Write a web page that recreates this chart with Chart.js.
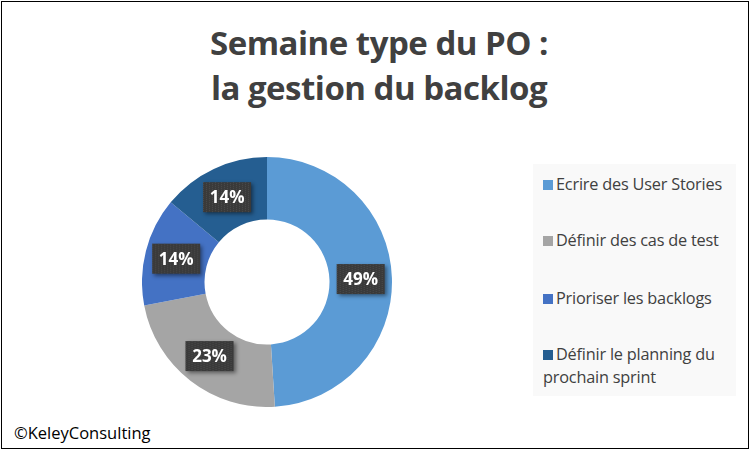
<!DOCTYPE html>
<html><head><meta charset="utf-8">
<script src="https://cdn.jsdelivr.net/npm/chart.js@4"></script>
<style>
body{margin:0;width:752px;height:452px;background:#fff;font-family:Calibri,"Liberation Sans",Carlito,sans-serif;overflow:hidden}
#frame{position:absolute;left:1px;top:1px;width:748px;height:448px;border:1px solid #000;box-sizing:border-box}
#title{position:absolute;left:3px;top:20px;width:752px;text-align:center;font-weight:bold;font-size:33px;line-height:45px;color:#404040;font-family:"Open Sans","Liberation Sans",sans-serif;letter-spacing:-0.5px}
#cw{position:absolute;left:142px;top:157px;width:250px;height:250px}
#legend{position:absolute;left:533px;top:164px;width:203px;height:232px;background:#f9f9f9;color:#404040;font-size:16.3px;font-family:"Open Sans","Liberation Sans",sans-serif;letter-spacing:-0.2px}
.li{position:absolute;left:10px;line-height:23px;white-space:nowrap}
.sw{display:inline-block;width:10px;height:10px;margin-right:3px;vertical-align:0px}
#copy{position:absolute;left:14px;top:421px;font-size:16.5px;color:#000;font-family:"Open Sans","Liberation Sans",sans-serif}
</style></head><body>
<div id="frame"></div>
<div id="title">Semaine type du PO :<br>la gestion du backlog</div>
<div id="cw"><canvas id="c" width="250" height="250"></canvas></div>
<div id="legend"></div>
<div id="copy">©KeleyConsulting</div>
<script>
const categories=["Ecrire des User Stories","Définir des cas de test","Prioriser les backlogs","Définir le planning du prochain sprint"];
const legendLines=[["Ecrire des User Stories"],["Définir des cas de test"],["Prioriser les backlogs"],["Définir le planning du","prochain sprint"]];
const values=[49,23,14,14];
const colors=["#5B9BD5","#A5A5A5","#4472C4","#255E91"];
const lg=document.getElementById('legend');
const tops=[9,65,123,179];
legendLines.forEach((l,i)=>{const d=document.createElement('div');d.className='li';d.style.top=tops[i]+'px';
d.innerHTML='<span class="sw" style="background:'+colors[i]+'"></span>'+l.join('<br>');lg.appendChild(d);});
const labelPlugin={id:'lbl',afterDatasetsDraw(ch){const ctx=ch.ctx;const meta=ch.getDatasetMeta(0);
meta.data.forEach((a,i)=>{const p=a.tooltipPosition();const t=values[i]+'%';
ctx.save();ctx.font='bold 17px "Open Sans","Liberation Sans",sans-serif';
const w=48,h=30;ctx.shadowColor='rgba(0,0,0,0.45)';ctx.shadowBlur=4;ctx.shadowOffsetX=2;ctx.shadowOffsetY=2;
ctx.fillStyle='#3a3a3a';ctx.fillRect(p.x-w/2,p.y-h/2,w,h);ctx.shadowColor='transparent';
ctx.fillStyle='rgba(90,90,90,0.6)';for(let x=0;x<w;x+=3)for(let y=(x/3)%2;y<h;y+=2)ctx.fillRect(p.x-w/2+x,p.y-h/2+y,1,1);
ctx.fillStyle='#fff';ctx.textAlign='center';ctx.textBaseline='middle';ctx.fillText(t,p.x,p.y+1);ctx.restore();});}};
new Chart(document.getElementById('c'),{type:'doughnut',
data:{labels:categories,datasets:[{data:values,backgroundColor:colors,borderWidth:0}]},
options:{responsive:false,animation:false,cutout:'50%',plugins:{legend:{display:false},tooltip:{enabled:false}},layout:{padding:0}},
plugins:[labelPlugin]});
</script></body></html>
